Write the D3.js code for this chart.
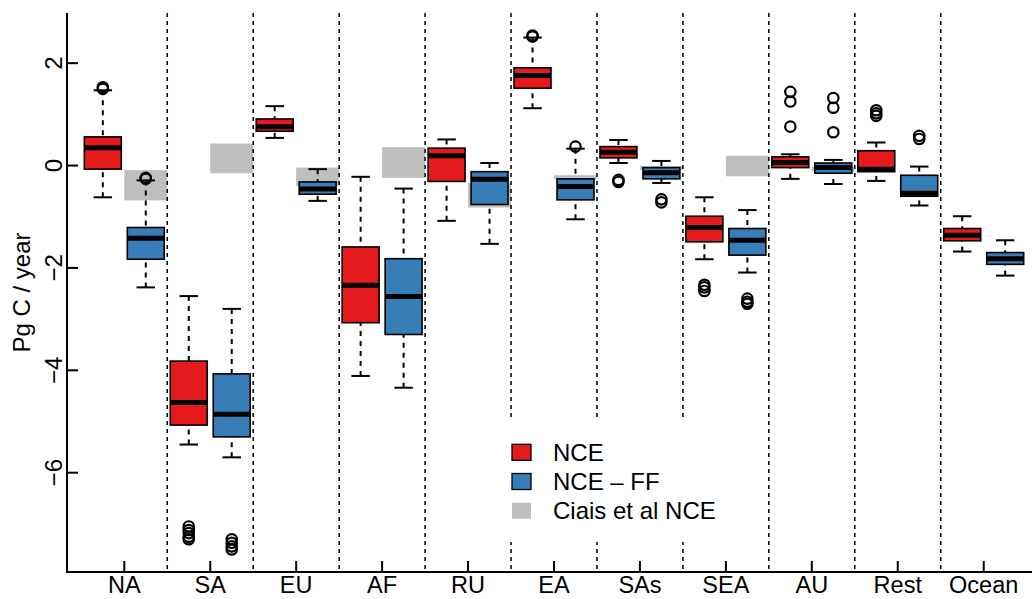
<!DOCTYPE html>
<html>
<head>
<meta charset="utf-8">
<script src="https://cdn.jsdelivr.net/npm/d3@7/dist/d3.min.js"></script>
<style>
  body { margin: 0; padding: 0; background: #fff; }
  text { font-family: "Liberation Sans", Arial, sans-serif; }
</style>
</head>
<body>
<div id="chart"></div>
<script>
// regions
var regions = ["NA", "SA", "EU", "AF", "RU", "EA", "SAs", "SEA", "AU", "Rest", "Ocean"];

// [lower whisker, q1, median, q3, upper whisker]
var nceBox = [
  [-0.62, -0.07, 0.35, 0.56, 1.47],
  [-5.45, -5.07, -4.63, -3.82, -2.55],
  [0.54, 0.67, 0.76, 0.91, 1.16],
  [-4.11, -3.07, -2.34, -1.59, -0.22],
  [-1.08, -0.31, 0.19, 0.34, 0.51],
  [1.12, 1.51, 1.76, 1.91, 2.50],
  [0.05, 0.15, 0.26, 0.37, 0.50],
  [-1.83, -1.49, -1.21, -0.99, -0.62],
  [-0.26, -0.04, 0.06, 0.17, 0.22],
  [-0.30, -0.12, -0.07, 0.29, 0.45],
  [-1.68, -1.47, -1.36, -1.23, -0.99]
];
var nceOut = [
  [1.53, 1.50],
  [-7.05, -7.12, -7.18, -7.25, -7.30],
  [],
  [],
  [],
  [2.54, 2.52],
  [-0.28, -0.32],
  [-2.33, -2.38, -2.45],
  [1.44, 1.25, 0.76],
  [1.08, 1.02, 0.97],
  []
];

var ffBox = [
  [-2.38, -1.83, -1.42, -1.21, -0.29],
  [-5.70, -5.30, -4.86, -4.07, -2.80],
  [-0.69, -0.56, -0.46, -0.32, -0.07],
  [-4.34, -3.30, -2.56, -1.82, -0.45],
  [-1.53, -0.76, -0.27, -0.12, 0.05],
  [-1.05, -0.67, -0.41, -0.26, 0.33],
  [-0.34, -0.26, -0.14, -0.04, 0.09],
  [-2.09, -1.75, -1.46, -1.23, -0.87],
  [-0.36, -0.15, -0.04, 0.05, 0.11],
  [-0.78, -0.60, -0.54, -0.19, -0.02],
  [-2.15, -1.93, -1.82, -1.70, -1.46]
];
var ffOut = [
  [-0.26, -0.24],
  [-7.30, -7.37, -7.44, -7.50],
  [],
  [],
  [],
  [0.37],
  [-0.66, -0.72],
  [-2.60, -2.66, -2.70],
  [1.32, 1.13, 0.65],
  [0.58, 0.52],
  []
];

// Ciais et al NCE range (low, high); null = none
var ciaisLow  = [-0.68, -0.15, -0.40, -0.24, -0.82, -0.27, -0.09, -0.21, -0.12, null, null];
var ciaisHigh = [-0.09, 0.43, -0.04, 0.36, -0.34, -0.19, -0.01, 0.19, -0.02, null, null];

var yTicks = [-6, -4, -2, 0, 2];
var legendLabels = ["NCE", "NCE \u2013 FF", "Ciais et al NCE"];

var width = 1032, height = 599;
var red = "#E41A1C", blue = "#377EB8", grey = "#BEBEBE";

var svg = d3.select("#chart").append("svg")
  .attr("width", width)
  .attr("height", height);

var x = d3.scaleLinear().domain([1, 11]).range([124.3, 983.7]);
var y = d3.scaleLinear().domain([-7.94, 2.98]).range([572, 13]);
var unit = x(2) - x(1);
var boxW = unit * 0.43;

// ciais grey boxes
regions.forEach(function(r, i) {
  if (ciaisLow[i] == null) return;
  svg.append("rect")
    .attr("x", x(i + 1))
    .attr("y", y(ciaisHigh[i]))
    .attr("width", unit * 0.5)
    .attr("height", y(ciaisLow[i]) - y(ciaisHigh[i]))
    .attr("fill", grey);
});

// separators
for (var i = 1; i < regions.length; i++) {
  svg.append("line")
    .attr("x1", x(i + 0.5)).attr("x2", x(i + 0.5))
    .attr("y1", y.range()[1]).attr("y2", y.range()[0])
    .attr("stroke", "#000")
    .attr("stroke-width", 1.5)
    .attr("stroke-dasharray", "4 4");
}

function drawBoxes(stats, outs, offset, color) {
  stats.forEach(function(s, i) {
    var cx = x(i + 1 + offset);
    var g = svg.append("g");
    // whiskers
    g.append("line")
      .attr("x1", cx).attr("x2", cx)
      .attr("y1", y(s[0])).attr("y2", y(s[1]))
      .attr("stroke", "#000").attr("stroke-width", 2)
      .attr("stroke-dasharray", "5 5");
    g.append("line")
      .attr("x1", cx).attr("x2", cx)
      .attr("y1", y(s[4])).attr("y2", y(s[3]))
      .attr("stroke", "#000").attr("stroke-width", 2)
      .attr("stroke-dasharray", "5 5");
    // caps
    [s[0], s[4]].forEach(function(v) {
      g.append("line")
        .attr("x1", cx - boxW / 4).attr("x2", cx + boxW / 4)
        .attr("y1", y(v)).attr("y2", y(v))
        .attr("stroke", "#000").attr("stroke-width", 2);
    });
    // box
    g.append("rect")
      .attr("x", cx - boxW / 2)
      .attr("y", y(s[3]))
      .attr("width", boxW)
      .attr("height", y(s[1]) - y(s[3]))
      .attr("fill", color)
      .attr("stroke", "#000")
      .attr("stroke-width", 1.6);
    // median
    g.append("line")
      .attr("x1", cx - boxW / 2).attr("x2", cx + boxW / 2)
      .attr("y1", y(s[2])).attr("y2", y(s[2]))
      .attr("stroke", "#000").attr("stroke-width", 5);
    // outliers
    outs[i].forEach(function(v) {
      g.append("circle")
        .attr("cx", cx).attr("cy", y(v))
        .attr("r", 5.2)
        .attr("fill", "none")
        .attr("stroke", "#000")
        .attr("stroke-width", 2.2);
    });
  });
}

drawBoxes(nceBox, nceOut, -0.25, red);
drawBoxes(ffBox, ffOut, 0.25, blue);

// axes
svg.append("line")
  .attr("x1", 67).attr("x2", 67)
  .attr("y1", y.range()[1]).attr("y2", y.range()[0])
  .attr("stroke", "#000").attr("stroke-width", 2);
svg.append("line")
  .attr("x1", 66).attr("x2", width)
  .attr("y1", y.range()[0]).attr("y2", y.range()[0])
  .attr("stroke", "#000").attr("stroke-width", 2);

yTicks.forEach(function(t) {
  svg.append("line")
    .attr("x1", 67).attr("x2", 78)
    .attr("y1", y(t)).attr("y2", y(t))
    .attr("stroke", "#000").attr("stroke-width", 2);
  svg.append("text")
    .attr("transform", "translate(62," + y(t) + ") rotate(-90)")
    .attr("text-anchor", "middle")
    .attr("font-size", 24)
    .text(String(t).replace("-", "\u2212"));
});

regions.forEach(function(r, i) {
  svg.append("line")
    .attr("x1", x(i + 1)).attr("x2", x(i + 1))
    .attr("y1", 572).attr("y2", 561)
    .attr("stroke", "#000").attr("stroke-width", 2);
  svg.append("text")
    .attr("x", x(i + 1))
    .attr("y", 593)
    .attr("text-anchor", "middle")
    .attr("font-size", 23.5)
    .text(r);
});

svg.append("text")
  .attr("transform", "translate(30," + (y.range()[0] + y.range()[1]) / 2 + ") rotate(-90)")
  .attr("text-anchor", "middle")
  .attr("font-size", 24)
  .text("Pg C / year");

// legend
var lg = svg.append("g");
lg.append("rect")
  .attr("x", 503).attr("y", 421)
  .attr("width", 225).attr("height", 121)
  .attr("fill", "#fff");
var legendFill = [red, blue, grey];
legendLabels.forEach(function(l, i) {
  var cy = 452.3 + i * 29.2;
  lg.append("rect")
    .attr("x", 512).attr("y", cy - 8)
    .attr("width", 19).attr("height", 16)
    .attr("fill", legendFill[i])
    .attr("stroke", i < 2 ? "#000" : "none")
    .attr("stroke-width", 1.3);
  lg.append("text")
    .attr("x", 553)
    .attr("y", cy + 8.5)
    .attr("font-size", 24)
    .text(l);
});
</script>
</body>
</html>
